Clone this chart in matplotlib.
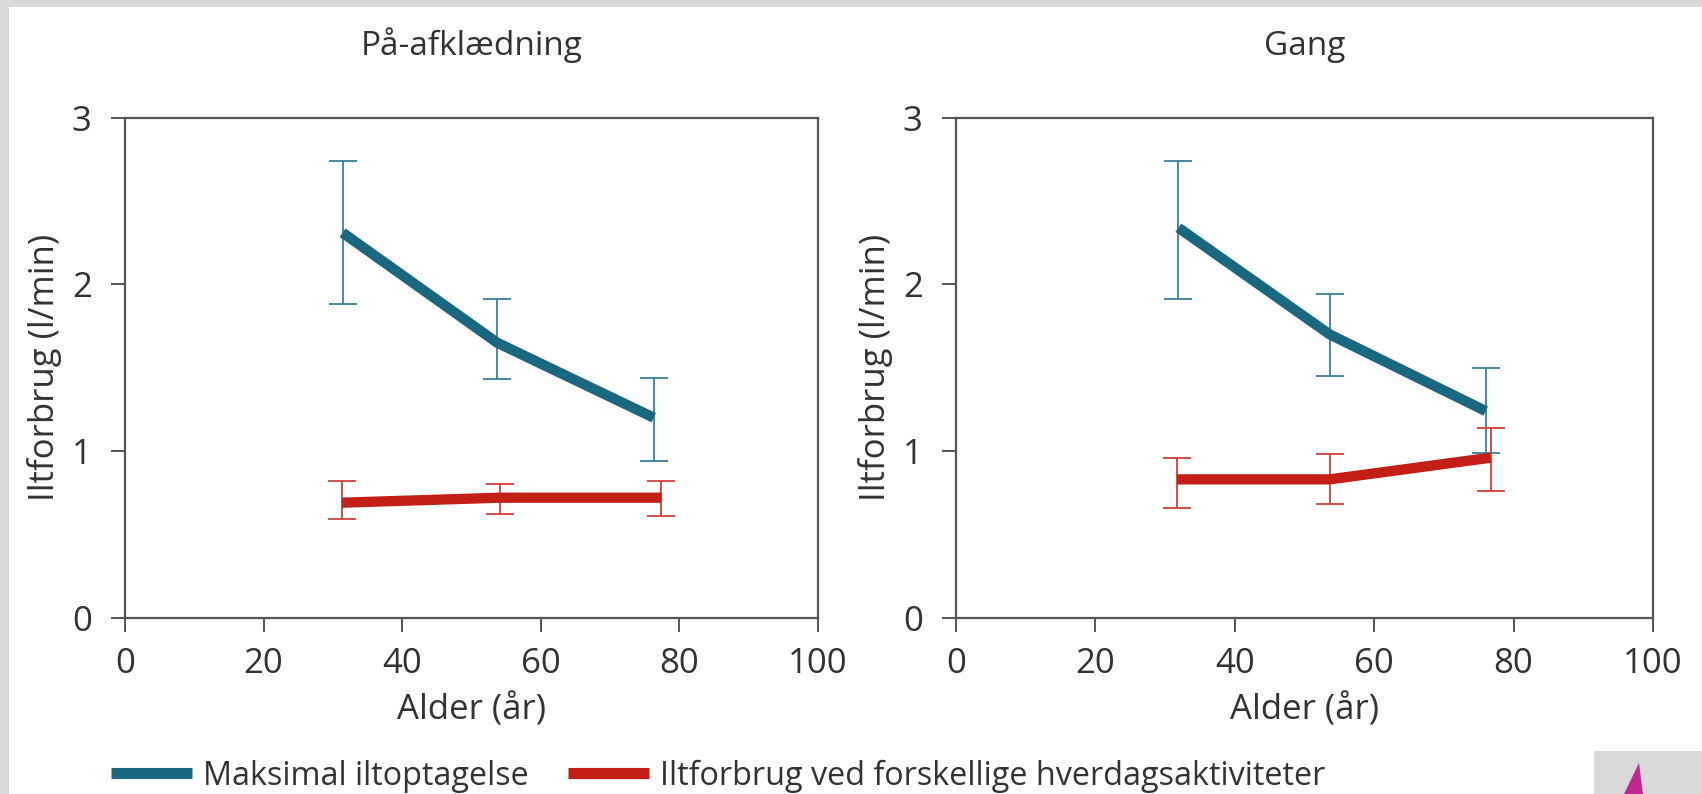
import matplotlib
matplotlib.use("Agg")
import matplotlib.pyplot as plt
from matplotlib.patches import Rectangle, Polygon

# ---------------- data ----------------
panel_titles = ["På-afklædning", "Gang"]
series_names = ["Maksimal iltoptagelse", "Iltforbrug ved forskellige hverdagsaktiviteter"]

# Panel 1: På-afklædning
p1_max_x = [31.4, 53.7, 76.3]
p1_max_y = [2.31, 1.65, 1.20]
p1_max_lo = [1.88, 1.43, 0.94]
p1_max_hi = [2.74, 1.91, 1.44]
p1_act_x = [31.3, 54.1, 77.4]
p1_act_y = [0.69, 0.72, 0.72]
p1_act_lo = [0.59, 0.62, 0.61]
p1_act_hi = [0.82, 0.80, 0.82]

# Panel 2: Gang
p2_max_x = [31.9, 53.6, 76.0]
p2_max_y = [2.34, 1.70, 1.24]
p2_max_lo = [1.91, 1.45, 0.99]
p2_max_hi = [2.74, 1.94, 1.50]
p2_act_x = [31.7, 53.6, 76.7]
p2_act_y = [0.83, 0.83, 0.96]
p2_act_lo = [0.66, 0.68, 0.76]
p2_act_hi = [0.96, 0.98, 1.14]

x_ticks = [0, 20, 40, 60, 80, 100]
y_ticks = [0, 1, 2, 3]
x_label = "Alder (år)"
y_label = "Iltforbrug (l/min)"

# ---------------- style ----------------
BLUE = "#1a6880"
BLUE_ERR = "#3a8198"
RED = "#c41f17"
RED_ERR = "#d2403a"
TXT = "#333333"
SPINE = "#555555"
FONT = ["Open Sans", "DejaVu Sans"]

plt.rcParams["font.family"] = FONT
plt.rcParams["text.color"] = TXT

W, H = 1702, 794
fig = plt.figure(figsize=(W / 100, H / 100), dpi=100)
fig.patch.set_facecolor("white")

# gray frame strips
fig.patches.append(Rectangle((0, 1 - 7 / H), 1, 7 / H, transform=fig.transFigure,
                             facecolor="#d9d9d9", edgecolor="none", zorder=0))
fig.patches.append(Rectangle((0, 0), 9 / W, 1, transform=fig.transFigure,
                             facecolor="#d9d9d9", edgecolor="none", zorder=0))
fig.patches.append(Rectangle((1594 / W, 0), (W - 1594) / W, (794 - 751) / H,
                             transform=fig.transFigure, facecolor="#d9d9d9",
                             edgecolor="none", zorder=0))
fig.patches.append(Polygon([(1624 / W, 0), (1639 / W, 1 - 763 / H), (1643 / W, 0)],
                           closed=True, transform=fig.transFigure,
                           facecolor="#c0288f", edgecolor="none", zorder=1))

bottom = 1 - 617.7 / H
height = (617.7 - 117.7) / H
ax1 = fig.add_axes([125 / W, bottom, (818 - 125) / W, height])
ax2 = fig.add_axes([956 / W, bottom, (1653 - 956) / W, height])

panels = [
    (ax1, p1_max_x, p1_max_y, p1_max_lo, p1_max_hi, p1_act_x, p1_act_y, p1_act_lo, p1_act_hi),
    (ax2, p2_max_x, p2_max_y, p2_max_lo, p2_max_hi, p2_act_x, p2_act_y, p2_act_lo, p2_act_hi),
]

handles = []
for i, (ax, mx, my, mlo, mhi, axx, ay, alo, ahi) in enumerate(panels):
    merr = [[y - l for y, l in zip(my, mlo)], [h - y for y, h in zip(my, mhi)]]
    aerr = [[y - l for y, l in zip(ay, alo)], [h - y for y, h in zip(ay, ahi)]]
    ax.errorbar(mx, my, yerr=merr, fmt="none", ecolor=BLUE_ERR, elinewidth=1.3,
                capsize=10, capthick=1.3, zorder=2)
    ax.errorbar(axx, ay, yerr=aerr, fmt="none", ecolor=RED_ERR, elinewidth=1.3,
                capsize=10, capthick=1.3, zorder=2)
    l1, = ax.plot(mx, my, color=BLUE, lw=7.4, solid_capstyle="butt",
                  solid_joinstyle="round", zorder=3, label=series_names[0])
    l2, = ax.plot(axx, ay, color=RED, lw=7.4, solid_capstyle="butt",
                  solid_joinstyle="round", zorder=3, label=series_names[1])
    if i == 0:
        handles = [l1, l2]

    ax.set_xlim(0, 100)
    ax.set_ylim(0, 3)
    ax.set_xticks(x_ticks)
    ax.set_yticks(y_ticks)
    ax.tick_params(axis="both", direction="out", length=10, width=1.4,
                   color=SPINE, labelsize=25, labelcolor=TXT)
    ax.tick_params(axis="x", pad=11)
    ax.tick_params(axis="y", pad=14)
    for s in ax.spines.values():
        s.set_color(SPINE)
        s.set_linewidth(1.6)
    ax.set_xlabel(x_label, fontsize=25, color=TXT, labelpad=9)
    ax.set_ylabel(y_label, fontsize=25, color=TXT, labelpad=7)
    ax.set_title(panel_titles[i], fontsize=24, color=TXT, pad=45)

leg = fig.legend(handles=handles, labels=series_names, loc="center left",
                 bbox_to_anchor=(111 / W, 1 - 776 / H), ncol=2, frameon=False,
                 fontsize=23.3, handlelength=2.5, handletextpad=0.35,
                 columnspacing=1.2, borderpad=0, borderaxespad=0)
for t in leg.get_texts():
    t.set_color(TXT)
for lh in leg.get_lines():
    lh.set_linewidth(8)

fig.savefig("out.png", dpi=100, facecolor=fig.get_facecolor())
